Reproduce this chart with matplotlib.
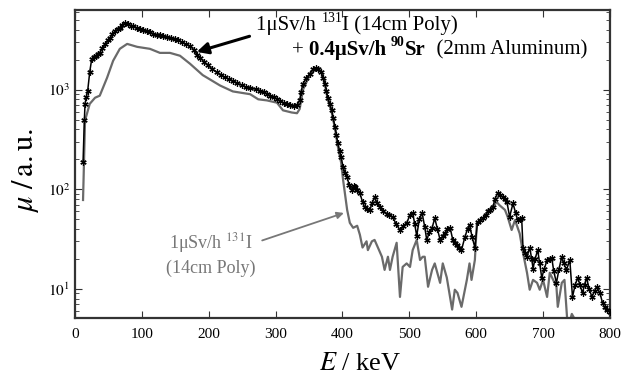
import matplotlib
matplotlib.use('Agg')
import matplotlib.pyplot as plt
from matplotlib.transforms import offset_copy

plt.rcParams['font.family'] = ['Liberation Serif', 'DejaVu Serif']
plt.rcParams['mathtext.fontset'] = 'stix'

# Spectrum with 131I + 90Sr (black, markers)
e_mix = [12, 14, 15, 17, 19, 22, 25, 28, 31, 34, 37, 41, 45, 49, 52, 56, 60, 64,
         67, 71, 75, 79, 83, 87, 92, 97, 102, 107, 112, 117, 122, 127, 132, 138,
         143, 149, 154, 160, 166, 172, 178, 183, 187, 193, 199, 205, 212, 218,
         224, 230, 236, 242, 249, 255, 262, 270, 277, 282, 287, 292, 297, 302,
         307, 312, 317, 322, 327, 332, 336, 338, 341, 346, 351, 356, 360, 364,
         368, 371, 374, 376, 378, 381, 384, 386, 389, 391, 393, 396, 398, 401,
         404, 407, 410, 414, 417, 419, 422, 426, 430, 433, 437, 441, 444, 448,
         452, 456, 461, 466, 470, 475, 480, 486, 491, 496, 501, 505, 508, 511,
         515, 519, 523, 526, 530, 534, 538, 542, 546, 550, 553, 557, 561, 565,
         569, 572, 575, 578, 583, 587, 590, 594, 598, 602, 606, 610, 614, 617,
         621, 625, 628, 632, 636, 640, 643, 646, 650, 655, 659, 662, 665, 668,
         670, 673, 676, 680, 683, 685, 688, 692, 695, 698, 702, 706, 710, 713,
         716, 720, 724, 728, 731, 735, 740, 744, 748, 752, 755, 759, 762, 765,
         769, 773, 777, 780, 785, 789, 792, 795, 800]
mu_mix = [186, 500, 720, 850, 980, 1500, 2040, 2150, 2200, 2280, 2350, 2600, 2900,
          3150, 3300, 3600, 3850, 4050, 4170, 4450, 4700, 4600, 4400, 4350, 4200,
          4100, 4000, 3850, 3750, 3650, 3550, 3500, 3450, 3350, 3300, 3240, 3150,
          3000, 2850, 2750, 2500, 2250, 2100, 1900, 1750, 1620, 1490, 1400, 1330,
          1280, 1230, 1170, 1110, 1070, 1050, 1010, 980, 950, 910, 870, 840, 810,
          770, 740, 720, 700, 690, 700, 780, 950, 1150, 1300, 1450, 1600, 1660,
          1620, 1500, 1300, 1150, 980, 830, 720, 620, 520, 420, 350, 290, 240,
          210, 166, 145, 132, 110, 98, 108, 105, 98, 91, 75, 66, 64, 62, 72, 83,
          72, 66, 60, 57, 55, 53, 45, 39, 43, 46, 55, 58, 45, 34, 50, 58, 42, 31,
          37, 41, 51, 40, 31, 34, 36, 40, 41, 31, 29, 27.5, 26, 24.5, 33, 40, 44,
          33, 26, 47, 49, 51, 55, 60, 62, 66, 80, 91, 88, 83, 80, 74, 53, 72, 58,
          49, 50, 51, 26, 23, 21, 26, 20, 16, 20, 24.5, 18, 13, 16, 19.5, 20,
          20.5, 15, 11.5, 16, 21, 18, 15.5, 19.5, 8.3, 11, 13, 11, 9.1, 11, 12.9,
          10, 8.3, 9.5, 10.5, 9.1, 7.2, 6.5, 6.2, 5.9]

# Spectrum with 131I only (grey)
e_iod = [12, 15, 22, 30, 37, 48, 57, 67, 78, 93, 112, 127, 142, 157, 172, 191,
         217, 236, 262, 274, 287, 302, 311, 324, 332, 336, 341, 351, 360, 369,
         374, 378, 384, 389, 393, 398, 401, 407, 411, 416, 422, 426, 430, 436,
         438, 444, 448, 453, 459, 463, 468, 471, 475, 481, 486, 490, 496, 501,
         505, 511, 516, 520, 523, 528, 534, 538, 546, 550, 556, 564, 568, 572,
         578, 586, 590, 593, 598, 601, 608, 616, 623, 631, 635, 643, 647, 653,
         658, 665, 670, 676, 680, 685, 691, 695, 700, 706, 710, 720, 722, 728,
         732, 737, 743, 751, 758, 770, 785, 800]
mu_iod = [78, 490, 720, 830, 870, 1320, 1950, 2570, 2880, 2690, 2570, 2340, 2340,
          2190, 1820, 1400, 1100, 960, 900, 800, 780, 740, 620, 590, 580, 640,
          1000, 1400, 1620, 1520, 1100, 800, 590, 400, 270, 185, 123, 62, 46, 41,
          43, 35, 26, 30, 24.5, 30, 31, 26, 21, 15.5, 21, 15.5, 21, 29, 8.3,
          16.6, 18, 16.6, 24.5, 31, 19.5, 21, 21, 10.5, 15.5, 18, 11.5, 18, 13,
          6.2, 9.8, 9.1, 6.6, 12.3, 18, 12.3, 19.5, 46, 49, 57, 66, 74, 69, 62,
          53, 39, 49, 36, 23, 14.5, 9.8, 12.3, 11.5, 9.8, 12.3, 8.3, 14.5, 10.5,
          6.6, 11.5, 12.3, 4, 5.6, 4.5, 3, 3, 3, 3]

x_ticks = [0, 100, 200, 300, 400, 500, 600, 700, 800]
y_ticks = [10, 100, 1000]
y_tick_labels = ['$10^1$', '$10^2$', '$10^3$']


def put_pieces(fig, ax, x, y, pieces):
    """Write text pieces one after another, starting at axes coords (x, y)."""
    renderer = fig.canvas.get_renderer()
    dx = 0.0
    for txt, weight, size, dy in pieces:
        tr = offset_copy(ax.transAxes, fig=fig, x=dx, y=dy, units='points')
        t = ax.text(x, y, txt, transform=tr, fontsize=size, fontweight=weight,
                    va='baseline', ha='left')
        bb = t.get_window_extent(renderer)
        dx += bb.width * 72.0 / fig.dpi


fig = plt.figure(figsize=(6.22, 3.76), dpi=100)
ax = fig.add_axes([0.1206, 0.1543, 0.86, 0.819])

ax.plot(e_iod, mu_iod, color='#6a6a6a', lw=1.6, zorder=2)
ax.plot(e_mix, mu_mix, color='black', lw=1.1, marker=(6, 2, 0), ms=4.5,
        mew=0.9, zorder=3)

ax.set_yscale('log')
ax.set_xlim(0, 800)
ax.set_ylim(5.1, 6300)
ax.set_xticks(x_ticks)
ax.set_yticks(y_ticks)
ax.set_yticklabels(y_tick_labels)
ax.tick_params(which='both', direction='in', top=True, right=True,
               labelsize=11, colors='#333333', labelcolor='black')
ax.tick_params(which='major', length=5, width=0.8)
ax.tick_params(which='minor', length=3, width=0.6)
ax.tick_params(axis='x', pad=7)
for s in ax.spines.values():
    s.set_color('#333333')
    s.set_linewidth(1.6)

ax.set_xlabel('$E$ / keV', fontsize=19, labelpad=6)
ax.xaxis.set_label_coords(0.533, -0.115)
ax.set_ylabel(r'$\mu\ /\,\mathrm{a.u.}$', fontsize=22, labelpad=2)
ax.yaxis.set_label_coords(-0.064, 0.48)

# annotations
put_pieces(fig, ax, 0.339, 0.935, [
    ('1μSv/h ', 'normal', 15, 0), ('131', 'normal', 10, 6),
    ('I (14cm Poly)', 'normal', 15, 0)])
put_pieces(fig, ax, 0.405, 0.855, [
    ('+ ', 'normal', 15, 0), ('0.4μSv/h ', 'bold', 15, 0),
    ('90', 'bold', 10, 6), ('Sr', 'bold', 15, 0),
    ('  (2mm Aluminum)', 'normal', 15, 0)])
ax.annotate('', xy=(178, 2350), xytext=(265, 3500),
            arrowprops=dict(arrowstyle='-|>', color='black', lw=2.2,
                            mutation_scale=17))

ax.text(203, 22.5, '1μSv/h $^{131}$I\n(14cm Poly)', color='#777777',
        fontsize=13, ha='center', va='center', linespacing=1.35)
ax.annotate('', xy=(406, 59), xytext=(276, 30),
            arrowprops=dict(arrowstyle='-|>', color='#777777', lw=1.3,
                            mutation_scale=10))

fig.savefig('out.png', dpi=100)
